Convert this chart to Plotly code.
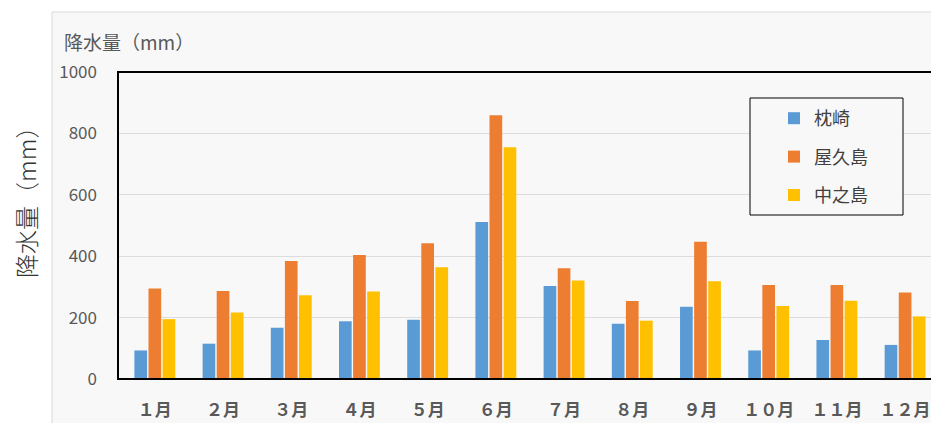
import plotly.graph_objects as go

months = ["１月", "２月", "３月", "４月", "５月", "６月", "７月", "８月", "９月", "１０月", "１１月", "１２月"]
makurazaki = [93, 115, 167, 188, 193, 511, 303, 180, 235, 93, 127, 111]
yakushima = [295, 287, 384, 404, 442, 859, 361, 254, 447, 306, 306, 282]
nakanoshima = [195, 217, 273, 285, 364, 755, 321, 190, 318, 238, 255, 204]
series_names = ["枕崎", "屋久島", "中之島"]
colors = ["#5B9BD5", "#ED7D31", "#FFC000"]
yticks = [0, 200, 400, 600, 800, 1000]

W, H = 931, 423
# plot area in screen pixels
PL, PR, PT, PB = 118, 931, 72, 379
L, R, T, B = PL, W - PR, PT, H - PB
pw, ph = W - L - R, H - T - B

def px(x):
    return (x - PL) / pw

def py(y):
    return (PB - y) / ph

font = "Noto Sans CJK JP"
fig = go.Figure()
for name, vals, c in zip(series_names, [makurazaki, yakushima, nakanoshima], colors):
    fig.add_trace(go.Bar(x=months, y=vals, name=name, marker_color=c,
                         marker_line_width=0, legendgroup=name))

fig.update_layout(
    width=W, height=H,
    margin=dict(l=L, r=R, t=T, b=B, pad=0),
    paper_bgcolor="white",
    plot_bgcolor="#f8f8f8",
    barmode="group", bargap=0.38, bargroupgap=0.1,
    font=dict(family=font, color="#595959"),
    showlegend=True,
    legend=dict(x=px(774), y=py(100), xanchor="left", yanchor="top",
                bgcolor="rgba(0,0,0,0)", borderwidth=0,
                font=dict(size=18, color="#404040", family=font),
                tracegroupgap=12, itemwidth=30),
    xaxis=dict(range=[-0.54, 11.38], showgrid=False, ticks="",
               tickfont=dict(size=17, color="#595959", family=font, weight="bold"),
               ticklabelstandoff=19, showline=False, zeroline=False),
    yaxis=dict(range=[0, 1000], tickvals=yticks, showgrid=True, gridcolor="#dcdcdc",
               gridwidth=1, zeroline=False, showline=False,
               tickfont=dict(size=17, color="#595959", family=font), ticklabelstandoff=20),
    shapes=[
        dict(type="rect", xref="paper", yref="paper", x0=px(52), x1=px(945), y0=py(440), y1=py(12),
             line=dict(color="#d9d9d9", width=1), fillcolor="#f8f8f8", layer="below"),
        dict(type="rect", xref="paper", yref="paper", x0=0, x1=1.01, y0=0, y1=1,
             line=dict(color="black", width=2), layer="above"),
        dict(type="rect", xref="paper", yref="paper", x0=px(750), x1=px(903), y0=py(215), y1=py(98),
             line=dict(color="black", width=1), fillcolor="#f8f8f8", layer="above"),
    ],
    annotations=[
        dict(text="降水量（mm）", xref="paper", yref="paper", x=px(62), y=py(42),
             xanchor="left", yanchor="middle", showarrow=False,
             font=dict(size=19, color="#595959", family=font)),
        dict(text="降水量（mm）", xref="paper", yref="paper", x=px(25), y=py(197),
             xanchor="center", yanchor="middle", textangle=-90, showarrow=False,
             font=dict(size=24, color="#333333", family=font, weight=300)),
    ],
)
fig.write_html("out.html", config={"displayModeBar": False},
               post_script="document.body.style.margin='0';document.body.style.overflow='hidden';")
